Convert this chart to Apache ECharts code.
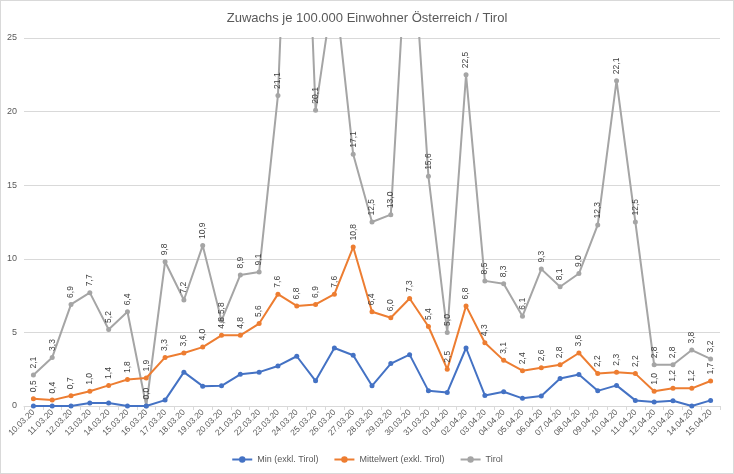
<!DOCTYPE html>
<html>
<head>
<meta charset="utf-8">
<script src="https://cdn.jsdelivr.net/npm/echarts@6/dist/echarts.min.js"></script>
<style>
html,body{margin:0;padding:0;background:#fff;}
#c{width:734px;height:474px;box-sizing:border-box;border:1px solid #d9d9d9;}
</style>
</head>
<body>
<div id="c"></div>
<script>
const categories = ["10.03.20","11.03.20","12.03.20","13.03.20","14.03.20","15.03.20","16.03.20","17.03.20","18.03.20","19.03.20","20.03.20","21.03.20","22.03.20","23.03.20","24.03.20","25.03.20","26.03.20","27.03.20","28.03.20","29.03.20","30.03.20","31.03.20","01.04.20","02.04.20","03.04.20","04.04.20","05.04.20","06.04.20","07.04.20","08.04.20","09.04.20","10.04.20","11.04.20","12.04.20","13.04.20","14.04.20","15.04.20"];
const minVals = [0.0,0.0,0.0,0.2,0.2,0.0,0.0,0.4,2.3,1.35,1.37,2.15,2.3,2.72,3.38,1.71,3.94,3.45,1.37,2.88,3.49,1.03,0.92,3.94,0.72,0.97,0.52,0.68,1.87,2.14,1.03,1.4,0.38,0.27,0.36,0.0,0.38];
const meanVals = [0.5,0.4,0.7,1.0,1.4,1.8,1.9,3.3,3.6,4.0,4.8,4.8,5.6,7.6,6.8,6.9,7.6,10.8,6.4,6.0,7.3,5.4,2.5,6.8,4.3,3.1,2.4,2.6,2.8,3.6,2.2,2.3,2.2,1.0,1.2,1.2,1.7];
const tirolVals = [2.1,3.3,6.9,7.7,5.2,6.4,0.0,9.8,7.2,10.9,5.8,8.9,9.1,21.1,52,20.1,28.8,17.1,12.5,13.0,35,15.6,5.0,22.5,8.5,8.3,6.1,9.3,8.1,9.0,12.3,22.1,12.5,2.8,2.8,3.8,3.2];
const yTicks = [0,5,10,15,20,25];

const YMAX = 25;
function withLabels(arr){
  return arr.map(v => v > YMAX ? {value: v, label: {show: false}} : v);
}
const labelCfg = {
  show: true, position: 'top', rotate: 90, align: 'left', verticalAlign: 'middle',
  distance: 4, fontSize: 8.5, color: '#404040', fontFamily: 'Liberation Sans',
  formatter: p => Number(p.value).toFixed(1).replace('.', ',')
};

const chart = echarts.init(document.getElementById('c'));
chart.setOption({
  animation: false,
  textStyle: {fontFamily: 'Liberation Sans'},
  title: {
    text: 'Zuwachs je 100.000 Einwohner Österreich / Tirol',
    left: 'center', top: 6,
    textStyle: {fontSize: 13, fontWeight: 'normal', color: '#595959', fontFamily: 'Liberation Sans'}
  },
  legend: {
    bottom: 4, left: 'center', itemWidth: 20, itemHeight: 8, itemGap: 15,
    textStyle: {fontSize: 9, color: '#595959', fontFamily: 'Liberation Sans'},
    data: ['Min (exkl. Tirol)', 'Mittelwert (exkl. Tirol)', 'Tirol']
  },
  grid: {left: 23, right: 13, top: 37, bottom: 67, containLabel: false},
  xAxis: {
    type: 'category', data: categories, boundaryGap: true,
    axisLine: {lineStyle: {color: '#d9d9d9'}},
    axisTick: {show: true, length: 4, lineStyle: {color: '#d9d9d9'}},
    axisLabel: {rotate: 45, interval: 0, fontSize: 8.5, color: '#595959', margin: 5, fontFamily: 'Liberation Sans'}
  },
  yAxis: {
    type: 'value', min: yTicks[0], max: yTicks[yTicks.length - 1], interval: 5,
    axisLine: {show: false}, axisTick: {show: false},
    splitLine: {lineStyle: {color: '#d9d9d9'}},
    axisLabel: {fontSize: 9, color: '#595959', margin: 7, fontFamily: 'Liberation Sans'}
  },
  series: [
    {
      name: 'Min (exkl. Tirol)', type: 'line', data: minVals,
      symbol: 'circle', symbolSize: 5, clip: true,
      itemStyle: {color: '#4472C4'}, lineStyle: {width: 2, color: '#4472C4'}, z: 4
    },
    {
      name: 'Mittelwert (exkl. Tirol)', type: 'line', data: withLabels(meanVals),
      symbol: 'circle', symbolSize: 5, clip: true,
      itemStyle: {color: '#ED7D31'}, lineStyle: {width: 2, color: '#ED7D31'},
      label: labelCfg, z: 3
    },
    {
      name: 'Tirol', type: 'line', data: withLabels(tirolVals),
      symbol: 'circle', symbolSize: 5, clip: true,
      itemStyle: {color: '#A5A5A5'}, lineStyle: {width: 2, color: '#A5A5A5'},
      label: labelCfg, z: 2
    }
  ]
});
</script>
</body>
</html>
